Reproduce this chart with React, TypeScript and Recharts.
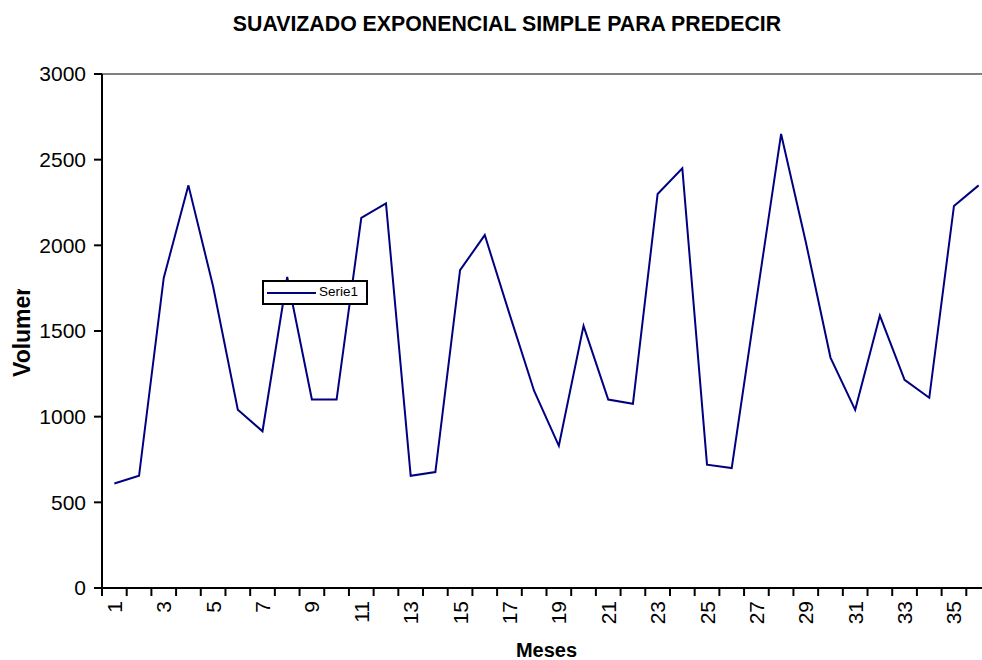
import { LineChart, Line, XAxis, YAxis, ReferenceLine } from 'recharts';

const FONT = '"Liberation Sans", Arial, Helvetica, sans-serif';

// meses 1..36
const meses = [
  1, 2, 3, 4, 5, 6, 7, 8, 9, 10, 11, 12,
  13, 14, 15, 16, 17, 18, 19, 20, 21, 22, 23, 24,
  25, 26, 27, 28, 29, 30, 31, 32, 33, 34, 35, 36,
];

// Serie1 (volumen)
const volumen = [
  610, 655, 1810, 2350, 1760, 1040, 915, 1815, 1100, 1100, 2160, 2245,
  655, 677, 1855, 2060, 1600, 1150, 830, 1530, 1100, 1075, 2300, 2450,
  720, 700, 1680, 2650, 2020, 1345, 1040, 1590, 1215, 1110, 2230, 2350,
];

const yTicks = [0, 500, 1000, 1500, 2000, 2500, 3000];
const xLabels = [1, 3, 5, 7, 9, 11, 13, 15, 17, 19, 21, 23, 25, 27, 29, 31, 33, 35];

const data = meses.map((m, i) => ({ mes: m, Serie1: volumen[i] }));

// excel style: marks between the categories, labels on odd months
const tickMarks = [meses[0] - 0.5, ...meses.map((m) => m + 0.5)];
const xTicks = [...tickMarks, ...xLabels].sort((a, b) => a - b);

const XTick = (props: any) => {
  const { x, y, payload } = props;
  const v = payload.value as number;
  if (!Number.isInteger(v)) {
    return <line x1={x} x2={x} y1={y} y2={y + 8} stroke="#000" strokeWidth={2} />;
  }
  return (
    <text
      transform={`translate(${x + 7.5},${y + 13}) rotate(-90)`}
      textAnchor="end"
      fontSize={21}
      fontFamily={FONT}
      fill="#000"
    >
      {v}
    </text>
  );
};

// the original label is cut off at the top, keep that
const VolumenLabel = () => (
  <g>
    <defs>
      <clipPath id="clip-volumen">
        <rect x={0} y={289} width={60} height={120} />
      </clipPath>
    </defs>
    <g clipPath="url(#clip-volumen)">
      <text
        transform="translate(30,377) rotate(-90)"
        fontSize={23}
        fontWeight="bold"
        fontFamily={FONT}
        fill="#000"
      >
        Volumen
      </text>
    </g>
  </g>
);

const MesesLabel = () => (
  <text x={546.5} y={657} textAnchor="middle" fontSize={20} fontWeight="bold" fontFamily={FONT} fill="#000">
    Meses
  </text>
);

const App = () => {
  return (
    <div
      style={{
        position: 'fixed',
        left: 0,
        top: 0,
        width: 982,
        height: 660,
        overflow: 'hidden',
        background: '#fff',
        fontFamily: FONT,
      }}
    >
      <div style={{ position: 'absolute', left: 0, top: 0 }}>
        <LineChart width={1000} height={660} data={data} margin={{ top: 74, right: 9, bottom: 0, left: 0 }}>
          <ReferenceLine y={3000} stroke="#808080" strokeWidth={2} />
          <XAxis
            dataKey="mes"
            type="number"
            domain={[0.5, 36.5]}
            ticks={xTicks}
            interval={0}
            height={72}
            tickLine={false}
            tickSize={0}
            tickMargin={0}
            tick={<XTick />}
            axisLine={{ stroke: '#000', strokeWidth: 2 }}
            label={{ content: () => <MesesLabel /> }}
          />
          <YAxis
            domain={[0, 3000]}
            ticks={yTicks}
            interval={0}
            width={102}
            tickSize={8}
            tickMargin={8}
            tick={{ fontSize: 21, fill: '#000', fontFamily: FONT }}
            tickLine={{ stroke: '#000', strokeWidth: 2 }}
            axisLine={{ stroke: '#000', strokeWidth: 2 }}
            label={{ content: () => <VolumenLabel /> }}
          />
          <Line
            dataKey="Serie1"
            stroke="#000080"
            strokeWidth={2}
            dot={false}
            isAnimationActive={false}
          />
        </LineChart>
      </div>

      <div
        style={{
          position: 'absolute',
          left: 0,
          top: 14,
          width: 1014,
          textAlign: 'center',
          fontSize: 21.3,
          lineHeight: '21px',
          fontWeight: 'bold',
          color: '#000',
        }}
      >
        SUAVIZADO EXPONENCIAL SIMPLE PARA PREDECIR
      </div>

      <div
        style={{
          position: 'absolute',
          left: 262,
          top: 280,
          width: 106,
          height: 25,
          boxSizing: 'border-box',
          border: '2px solid #000',
          background: '#fff',
        }}
      >
        <div style={{ position: 'absolute', left: 3, top: 9.5, width: 49, height: 2, background: '#000080' }} />
        <span
          style={{
            position: 'absolute',
            left: 55,
            top: 3,
            fontSize: 13.5,
            lineHeight: '13.5px',
            color: '#000',
            whiteSpace: 'nowrap',
          }}
        >
          Serie1
        </span>
      </div>
    </div>
  );
};

export default App;
